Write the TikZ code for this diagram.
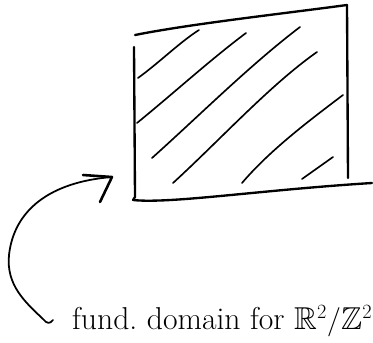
\documentclass[tikz,border=0pt]{standalone}
\usepackage{amssymb}
\usetikzlibrary{positioning,arrows.meta}

\begin{document}
\begin{tikzpicture}[x=0.03cm, y=-0.03cm, every node/.style={font=\fontsize{27}{31}\selectfont}]
      \tikzstyle{pen}=[line width=2pt, line cap=round, line join=round]
      \tikzstyle{hatch}=[line width=1.4pt, line cap=round]
      \tikzstyle{arrowpen}=[line width=1.5pt, line cap=round, line join=round]
      \useasboundingbox (0,0) rectangle (373,342);
      % corners of the square
      \coordinate (tl) at (135,35);
      \coordinate (tr) at (347,5);
      \coordinate (bl) at (133,200);
      \coordinate (br) at (372,183);
      \draw[pen] (tl) .. controls (190,24) and (280,14) .. (tr);
      \draw[pen] (134,47) -- (135,197) -- (bl);
      \draw[pen] (bl) .. controls (170,204) and (260,190) .. (br);
      \draw[pen] (tr) -- (348,178);
      % hatching
      \draw[hatch] (138,78) .. controls (160,62) and (180,42) .. (199,30);
      \draw[hatch] (137,123) .. controls (175,92) and (210,60) .. (246,33);
      \draw[hatch] (152,158) .. controls (200,115) and (250,65) .. (300,27);
      \draw[hatch] (173,183) .. controls (220,140) and (270,85) .. (317,52);
      \draw[hatch] (242,183) .. controls (270,150) and (310,120) .. (343,95);
      \draw[hatch] (302,179) -- (333,157);
      % label and arrow
      \node[anchor=base west, inner sep=0pt] (lbl) at (72,329) {fund.\ domain for $\mathbb{R}^2/\mathbb{Z}^2$};
      \coordinate (hook) at (53,320);
      \coordinate (tip) at (112,177);
      \coordinate (barbA) at (83,175);
      \coordinate (barbB) at (100,202);
      \draw[arrowpen] (hook) .. controls (50,324) and (47,324) .. (43,319)
            .. controls (25,302) and (6,285) .. (9,255)
            .. controls (14,210) and (50,182) .. (tip);
      \draw[arrowpen, line width=2.2pt] (barbA) -- (tip) -- (barbB);
    \end{tikzpicture}
\end{document}
